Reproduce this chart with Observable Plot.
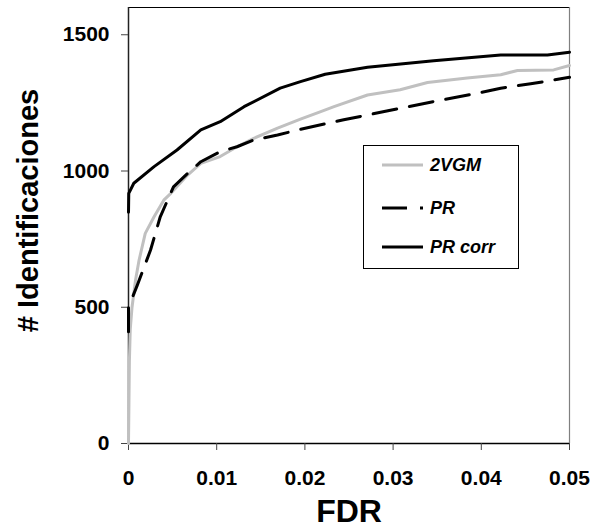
<!DOCTYPE html>
<html>
<head>
<meta charset="utf-8">
<script src="https://cdn.jsdelivr.net/npm/d3@7"></script>
<script src="https://cdn.jsdelivr.net/npm/@observablehq/plot@0.6"></script>
<style>
  html, body { margin: 0; padding: 0; background: #fff; }
  #wrap { position: relative; width: 595px; height: 528px; font-family: "Liberation Sans", Arial, sans-serif; }
  #legend { position: absolute; left: 363px; top: 145px; width: 156px; height: 124px; box-sizing: border-box; border: 1px solid #000; background: #fff; }
  .row { position: absolute; left: 0; height: 20px; width: 100%; }
  .row svg { position: absolute; left: 18px; top: 0; }
  .row span { position: absolute; left: 66px; top: 0; line-height: 20px; font-size: 18px; font-weight: bold; font-style: italic; color: #000; white-space: nowrap; }
</style>
</head>
<body>
<div id="wrap"></div>
<script>
// ---- data (FDR vs number of identifications) ----
const fdr2VGM = [0, 0.00005, 0.0001, 0.0002, 0.0004, 0.0008, 0.0012, 0.0019, 0.0029, 0.004, 0.0048, 0.0067, 0.0082, 0.0104, 0.0123, 0.0142, 0.0169, 0.0195, 0.0218, 0.0233, 0.0271, 0.0308, 0.0339, 0.0384, 0.0422, 0.0441, 0.0482, 0.05];
const ids2VGM = [0, 150, 300, 420, 500, 600, 673, 771, 832, 893, 918, 985, 1028, 1053, 1089, 1120, 1157, 1190, 1218, 1236, 1279, 1298, 1325, 1341, 1353, 1369, 1371, 1387];

const fdrPR = [0, 0, 0.001, 0.0025, 0.0036, 0.0051, 0.0067, 0.0082, 0.0104, 0.0123, 0.0142, 0.0169, 0.0195, 0.0244, 0.029, 0.0346, 0.0392, 0.0422, 0.0456, 0.0482, 0.05];
const idsPR = [410, 500, 581, 710, 832, 942, 991, 1034, 1071, 1089, 1114, 1132, 1153, 1188, 1218, 1255, 1283, 1304, 1320, 1334, 1344];

const fdrPRcorr = [0, 0.00003, 0.0006, 0.0029, 0.0055, 0.0082, 0.0104, 0.0131, 0.0172, 0.0195, 0.0223, 0.0271, 0.0346, 0.0422, 0.0475, 0.05];
const idsPRcorr = [849, 918, 955, 1016, 1077, 1151, 1181, 1236, 1304, 1328, 1355, 1381, 1405, 1426, 1426, 1436];

const xTicks = [0, 0.01, 0.02, 0.03, 0.04, 0.05];
const yTicks = [0, 500, 1000, 1500];
const xDomain = [0, 0.05];
const yDomain = [0, 1600];
const seriesNames = ["2VGM", "PR", "PR corr"];
const xTitle = "FDR";
const yTitle = "# Identificaciones";

// ---- build tables ----
const toRows = (xs, ys) => xs.map((x, i) => ({x, y: ys[i]}));
const s2VGM = toRows(fdr2VGM, ids2VGM);
const sPR = toRows(fdrPR, idsPR);
const sPRcorr = toRows(fdrPRcorr, idsPRcorr);

const font = "Liberation Sans, Arial, sans-serif";
const dash = "24,13";

const chart = Plot.plot({
  width: 595,
  height: 528,
  marginLeft: 128,
  marginRight: 26,
  marginTop: 7,
  marginBottom: 85,
  style: {fontFamily: font, background: "#fff", color: "#000"},
  x: {domain: xDomain},
  y: {domain: yDomain},
  marks: [
    Plot.ruleY([yDomain[1]], {stroke: "#000", strokeWidth: 1}),
    Plot.ruleX([xDomain[1]], {stroke: "#808080", strokeWidth: 1.2}),
    Plot.ruleY([0], {stroke: "#000", strokeWidth: 1.5}),
    Plot.ruleX([0], {stroke: "#222", strokeWidth: 1.5}),
    Plot.axisX({ticks: xTicks, tickSize: 7, tickPadding: 20, fontSize: 21, fontWeight: "bold", label: null, stroke: "#444",
      tickFormat: d => d === 0 ? "0" : d.toFixed(2)}),
    Plot.axisY({ticks: yTicks, tickSize: 7, tickPadding: 12, fontSize: 21, fontWeight: "bold", label: null, stroke: "#444",
      tickFormat: d3.format("d")}),
    Plot.line(s2VGM, {x: "x", y: "y", stroke: "#c0c0c0", strokeWidth: 3}),
    Plot.line(sPR, {x: "x", y: "y", stroke: "#000", strokeWidth: 3, strokeDasharray: dash}),
    Plot.line(sPRcorr, {x: "x", y: "y", stroke: "#000", strokeWidth: 3}),
    Plot.text([xTitle], {text: d => d, frameAnchor: "bottom", dy: 68, lineAnchor: "middle", textAnchor: "middle", fontSize: 32, fontWeight: "bold", fill: "#000"}),
    Plot.text([yTitle], {text: d => d, frameAnchor: "left", dx: -100, dy: -15, rotate: -90, lineAnchor: "middle", textAnchor: "middle", fontSize: 29, fontWeight: "bold", fill: "#000"})
  ]
});

const wrap = document.getElementById("wrap");
wrap.appendChild(chart);

// ---- legend (inside plot area) ----
const legend = document.createElement("div");
legend.id = "legend";
const styles = [
  {stroke: "#c0c0c0", dash: null},
  {stroke: "#000", dash: "25,13"},
  {stroke: "#000", dash: null}
];
const rowTops = [9, 52, 91];
seriesNames.forEach((name, i) => {
  const row = document.createElement("div");
  row.className = "row";
  row.style.top = rowTops[i] + "px";
  const ns = "http://www.w3.org/2000/svg";
  const svg = document.createElementNS(ns, "svg");
  svg.setAttribute("width", "42");
  svg.setAttribute("height", "20");
  const ln = document.createElementNS(ns, "line");
  ln.setAttribute("x1", "0"); ln.setAttribute("x2", "41");
  ln.setAttribute("y1", "10"); ln.setAttribute("y2", "10");
  ln.setAttribute("stroke", styles[i].stroke);
  ln.setAttribute("stroke-width", "3");
  if (styles[i].dash) ln.setAttribute("stroke-dasharray", styles[i].dash);
  svg.appendChild(ln);
  const sp = document.createElement("span");
  sp.textContent = name;
  row.appendChild(svg);
  row.appendChild(sp);
  legend.appendChild(row);
});
wrap.appendChild(legend);
</script>
</body>
</html>
